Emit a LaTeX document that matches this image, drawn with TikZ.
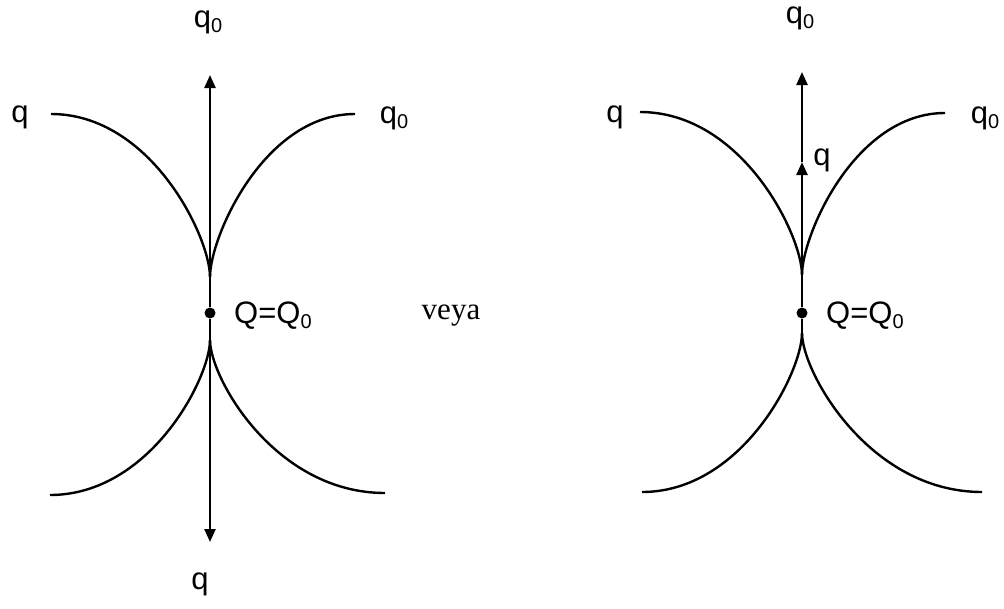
\documentclass[tikz,border=0pt]{standalone}
\usepackage{fontspec}
\setmainfont{Liberation Sans}
\newfontfamily\serifveya{Liberation Serif}
\usetikzlibrary{arrows.meta}
\newcommand{\lowsub}[1]{\raisebox{-.3ex}{\fontsize{20}{20}\selectfont #1}}
\begin{document}
\begin{tikzpicture}[x=1pt,y=-1pt,
  curve/.style={line width=2.4pt},
  axis/.style={line width=2.4pt,-{Triangle[width=11pt,length=13pt]}},
  lbl/.style={font=\fontsize{31}{35}\selectfont, inner sep=0pt},
  dotnode/.style={circle,fill=black,inner sep=0pt,minimum size=11pt}]
\useasboundingbox (0,0) rectangle (1004,608);
% ---------- left diagram ----------
\node[dotnode] (L) at (210,313) {};
\coordinate (Ltop) at (210,75);
\coordinate (Lbot) at (210,542);
\coordinate (Lcu) at (210,277);
\coordinate (Lcd) at (210,340);
\draw[axis] (L) -- (Ltop);
\draw[axis] (L) -- (Lbot);
\coordinate (Lul) at (51,114);
\coordinate (Lur) at (355,114);
\coordinate (Lll) at (50,495);
\coordinate (Llr) at (385,493);
\draw[curve] (Lul) .. controls (151,114) and (210,237) .. (Lcu);
\draw[curve] (Lur) .. controls (264,114) and (210,237) .. (Lcu);
\draw[curve] (Lll) .. controls (150,495) and (210,378) .. (Lcd);
\draw[curve] (Llr) .. controls (275,493) and (210,378) .. (Lcd);
\draw[curve] (Lcu) -- (L);
\node[lbl] (tLq) at (20,117) {q};
\node[lbl] (tLq0r) at (394,118) {q\lowsub{0}};
\node[lbl] (tLq0t) at (208,22) {q\lowsub{0}};
\node[lbl] (tLqb) at (200,584) {q};
\node[lbl,anchor=west] (tLQ) at (234,316) {Q=Q\lowsub{0}};
\node[lbl,font=\serifveya\fontsize{31}{35}\selectfont] (veya) at (451,316) {veya};
% ---------- right diagram ----------
\node[dotnode] (R) at (802,313) {};
\coordinate (Rtop) at (802,72);
\coordinate (Rmid) at (802,162);
\coordinate (Rcu) at (802,275);
\coordinate (Rcd) at (802,333);
\draw[axis] (R) -- (Rmid);
\draw[axis] (Rmid) -- (Rtop);
\coordinate (Rul) at (640,112);
\coordinate (Rur) at (945,113);
\coordinate (Rll) at (642,492);
\coordinate (Rlr) at (982,492);
\draw[curve] (Rul) .. controls (742,112) and (802,235) .. (Rcu);
\draw[curve] (Rur) .. controls (855,113) and (802,235) .. (Rcu);
\draw[curve] (Rll) .. controls (742,492) and (802,372) .. (Rcd);
\draw[curve] (Rlr) .. controls (869,492) and (802,372) .. (Rcd);
\draw[curve] (R) -- (Rcd);
\node[lbl] (tRq) at (615,117) {q};
\node[lbl] (tRq0r) at (985,118) {q\lowsub{0}};
\node[lbl] (tRq0t) at (800,18) {q\lowsub{0}};
\node[lbl] (tRqm) at (822,160) {q};
\node[lbl,anchor=west] (tRQ) at (826,316) {Q=Q\lowsub{0}};
\end{tikzpicture}
\end{document}
